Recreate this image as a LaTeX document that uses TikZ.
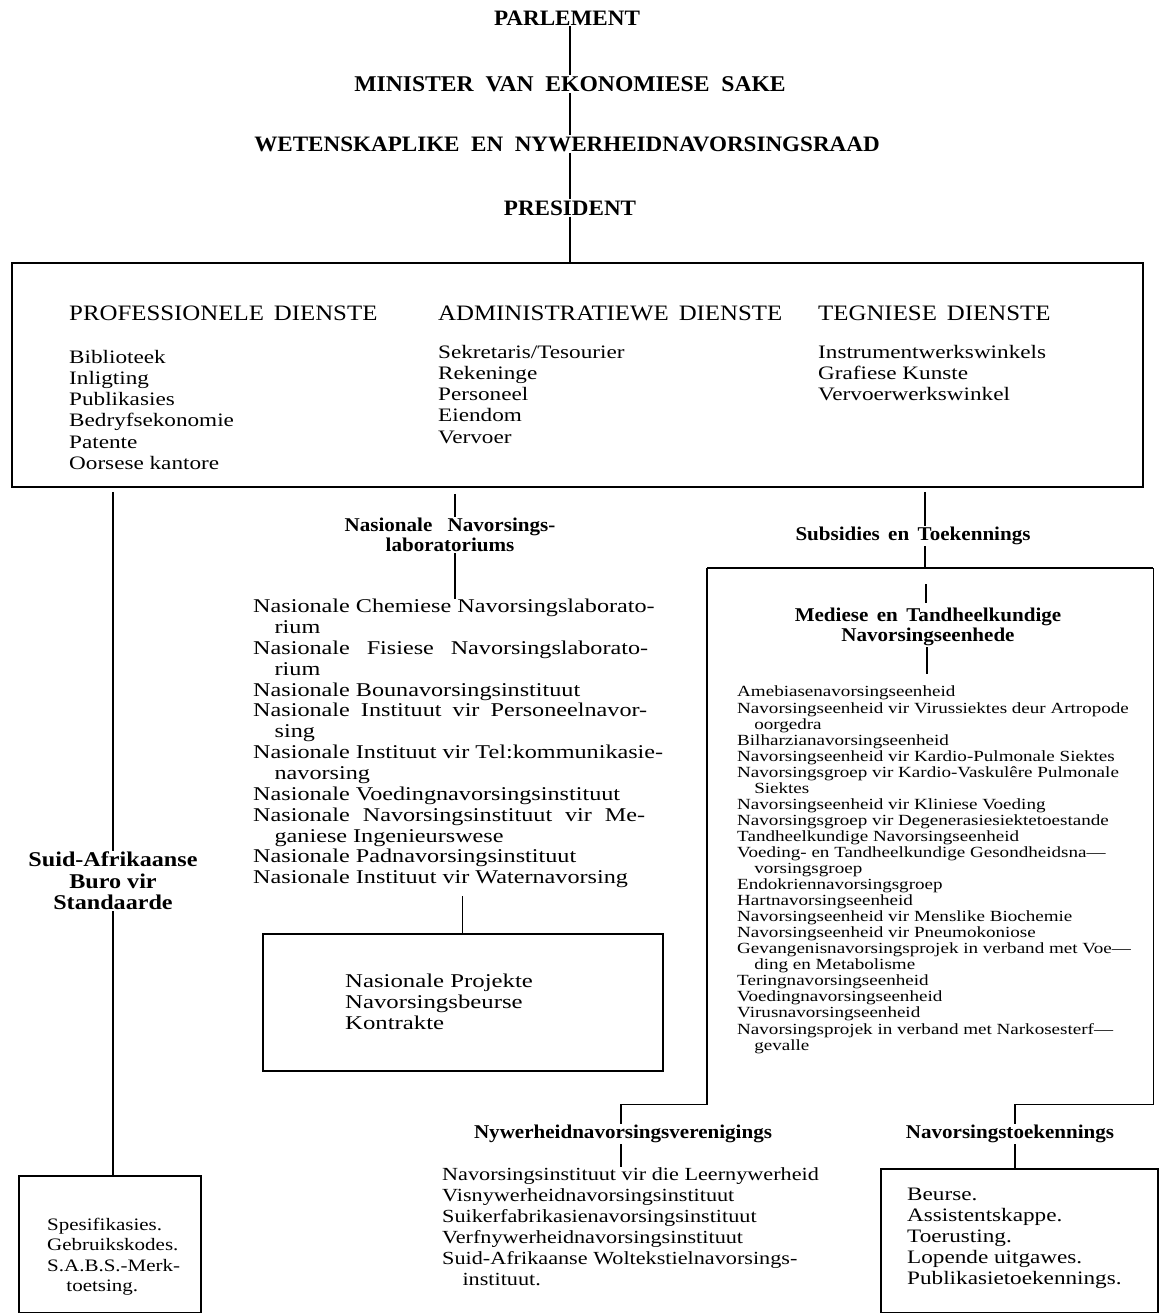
\documentclass[tikz,border=0pt]{standalone}
\usepackage{fontspec}
\setmainfont{Liberation Serif}
\newfontfamily\bodyfont[FakeStretch=1.22]{Liberation Serif}
\newfontfamily\nlistfont[FakeStretch=1.24]{Liberation Serif}
\newfontfamily\nywfont[FakeStretch=1.2]{Liberation Serif}
\newfontfamily\projfont[FakeStretch=1.27]{Liberation Serif}
\newfontfamily\smallbody[FakeStretch=1.23]{Liberation Serif}
\newfontfamily\capsfont[FakeStretch=1.13,WordSpace=1.6]{Liberation Serif}
\newfontfamily\titlefont[FakeStretch=1.05,WordSpace=2]{Liberation Serif}
\newfontfamily\subfont[FakeStretch=1.08,WordSpace=1.6]{Liberation Serif}
\newfontfamily\suidfont[FakeStretch=1.15]{Liberation Serif}
\newcommand{\ind}{\hspace*{1.1em}}
\newcommand{\jline}[2]{\makebox[#1pt][s]{#2}}
\tikzset{
  ln/.style={line width=1.1pt},
  thickln/.style={line width=2.4pt},
  boxln/.style={line width=1.8pt},
  ttl/.style={font=\titlefont\bfseries\fontsize{22}{24}\selectfont, inner sep=1pt},
  hdr/.style={font=\capsfont\fontsize{22}{24}\selectfont, inner sep=0pt, anchor=west},
  lst/.style={font=\bodyfont\fontsize{19}{21.2}\selectfont, align=left, inner sep=0pt, anchor=north west},
  mlst/.style={font=\smallbody\fontsize{15.5}{16.05}\selectfont, align=left, inner sep=0pt, anchor=north west},
  subh/.style={font=\subfont\bfseries\fontsize{19.5}{20.5}\selectfont, align=center, inner sep=1pt},
  framebox/.style={draw, line width=1.8pt, anchor=north west, inner sep=0pt},
}
\begin{document}
\begin{tikzpicture}[x=1pt,y=-1pt]
\useasboundingbox (0,0) rectangle (1165,1313);

% top chain
\node[ttl] (parl) at (567,18) {PARLEMENT};
\node[ttl, font=\titlefont\bfseries\fontsize{22.5}{24}\selectfont] (min) at (570,84) {MINISTER VAN EKONOMIESE SAKE};
\node[ttl] (wnr) at (567,144) {WETENSKAPLIKE EN NYWERHEIDNAVORSINGSRAAD};
\node[ttl] (pres) at (570,208) {PRESIDENT};

% top box
\node[framebox, minimum width=1131pt, minimum height=224pt] (topbox) at (11,262) {};
\draw[ln] (parl.south -| 570,0) -- (570,0 |- min.north);
\draw[ln] (min.south -| 570,0) -- (570,0 |- wnr.north);
\draw[ln] (wnr.south -| 570,0) -- (570,0 |- pres.north);
\draw[ln] (pres.south -| 570,0) -- (570,0 |- topbox.north);

\node[hdr] (profh) at (69,313) {PROFESSIONELE DIENSTE};
\node[hdr] (admh) at (438,313) {ADMINISTRATIEWE DIENSTE};
\node[hdr] (tegh) at (818,313) {TEGNIESE DIENSTE};

\node[lst] (profl) at (69,350) {Biblioteek\\Inligting\\Publikasies\\Bedryfsekonomie\\Patente\\Oorsese kantore};
\node[lst] (adml) at (438,345) {Sekretaris/Tesourier\\Rekeninge\\Personeel\\Eiendom\\Vervoer};
\node[lst] (tegl) at (818,345) {Instrumentwerkswinkels\\Grafiese Kunste\\Vervoerwerkswinkel};

% left branch
\node[subh, font=\suidfont\bfseries\fontsize{21}{21.5}\selectfont] (suid) at (113,881) {Suid-Afrikaanse\\Buro vir\\Standaarde};
\draw[thickln, shorten <=4pt] (topbox.south -| suid.north) -- (suid.north);
\node[framebox, minimum width=182pt, minimum height=137pt] (sabs) at (18,1175) {};
\draw[thickln] (suid.south) -- (suid.south |- sabs.north);
\node[lst, font=\nywfont\fontsize{17.5}{20.3}\selectfont] (sabsl) at (47,1218) {Spesifikasies.\\Gebruikskodes.\\S.A.B.S.-Merk-\\\ind toetsing.};

% middle branch
\node[subh] (nnl) at (450,535) {Nasionale\hspace{0.35em} Navorsings-\\laboratoriums};
\draw[ln, shorten <=6pt] (topbox.south -| 455,0) -- (455,0 |- nnl.north);
\node[lst, font=\nlistfont\fontsize{19.5}{20.85}\selectfont] (nlist) at (253,599) {Nasionale Chemiese Navorsingslaborato-\\\ind rium\\\jline{395}{Nasionale Fisiese Navorsingslaborato-}\\\ind rium\\Nasionale Bounavorsingsinstituut\\\jline{394}{Nasionale Instituut vir Personeelnavor-}\\\ind sing\\Nasionale Instituut vir Tel:kommunikasie-\\\ind navorsing\\Nasionale Voedingnavorsingsinstituut\\\jline{392}{Nasionale Navorsingsinstituut vir Me-}\\\ind ganiese Ingenieurswese\\Nasionale Padnavorsingsinstituut\\Nasionale Instituut vir Waternavorsing};
\draw[ln] (nnl.south -| 455,0) -- (455,0 |- nlist.north);
\node[framebox, minimum width=400pt, minimum height=137pt] (proj) at (262,933) {};
\draw[ln, shorten <=8pt] (nlist.south -| proj.north) -- (proj.north);
\node[lst, font=\projfont\fontsize{19.5}{21}\selectfont] (projl) at (345,974) {Nasionale Projekte\\Navorsingsbeurse\\Kontrakte};

% right branch
\node[subh] (subs) at (913,536) {Subsidies en Toekennings};
\draw[ln, shorten <=4pt] (topbox.south -| 925,0) -- (925,0 |- subs.north);
\node[inner sep=0pt, anchor=north west, minimum width=446pt, minimum height=536pt] (medbox) at (707,568) {};
\draw[ln] (subs.south -| 925,0) -- (925,0 |- medbox.north);
\node[subh] (mt) at (928,627) {Mediese en Tandheelkundige\\Navorsingseenhede};
\draw[ln, shorten <=16pt, shorten >=4pt] (medbox.north -| 926,0) -- (926,0 |- mt.north);
\node[mlst] (mlist) at (737,686) {Amebiasenavorsingseenheid\\Navorsingseenheid vir Virussiektes deur Artropode\\\ind oorgedra\\Bilharzianavorsingseenheid\\Navorsingseenheid vir Kardio-Pulmonale Siektes\\Navorsingsgroep vir Kardio-Vaskulêre Pulmonale\\\ind Siektes\\Navorsingseenheid vir Kliniese Voeding\\Navorsingsgroep vir Degenerasiesiektetoestande\\Tandheelkundige Navorsingseenheid\\Voeding- en Tandheelkundige Gesondheidsna—\\\ind vorsingsgroep\\Endokriennavorsingsgroep\\Hartnavorsingseenheid\\Navorsingseenheid vir Menslike Biochemie\\Navorsingseenheid vir Pneumokoniose\\Gevangenisnavorsingsprojek in verband met Voe—\\\ind ding en Metabolisme\\Teringnavorsingseenheid\\Voedingnavorsingseenheid\\Virusnavorsingseenheid\\Navorsingsprojek in verband met Narkosesterf—\\\ind gevalle};
\draw[ln, shorten >=12pt] (mt.south -| 927,0) -- (927,0 |- mlist.north);

\node[subh] (nyw) at (623,1134) {Nywerheidnavorsingsverenigings};
\node[subh] (navt) at (1010,1134) {Navorsingstoekennings};
\draw[boxln] (medbox.north west) -- (medbox.north east);
\draw[boxln] (medbox.north west) -- (medbox.south west) -- (medbox.south west -| 621,0) -- (621,0 |- nyw.north);
\draw[boxln] (medbox.north east) -- (medbox.south east) -- (medbox.south east -| 1015,0) -- (1015,0 |- navt.north);

\node[lst, font=\nywfont\fontsize{18.5}{21}\selectfont] (nywl) at (442,1167) {Navorsingsinstituut vir die Leernywerheid\\Visnywerheidnavorsingsinstituut\\Suikerfabrikasienavorsingsinstituut\\Verfnywerheidnavorsingsinstituut\\Suid-Afrikaanse Woltekstielnavorsings-\\\ind instituut.};
\draw[ln] (nyw.south -| 621,0) -- (621,0 |- nywl.north);

\node[framebox, minimum width=277pt, minimum height=144pt] (navbox) at (880,1168) {};
\draw[ln] (navt.south -| 1015,0) -- (1015,0 |- navbox.north);
\node[lst, font=\bodyfont\fontsize{19}{21}\selectfont] (navl) at (907,1188) {Beurse.\\Assistentskappe.\\Toerusting.\\Lopende uitgawes.\\Publikasietoekennings.};
\end{tikzpicture}
\end{document}
